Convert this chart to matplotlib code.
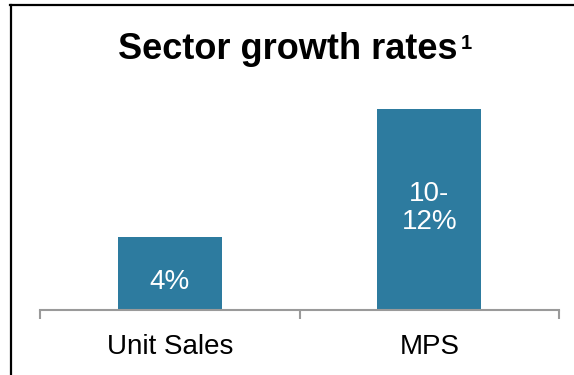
import matplotlib

matplotlib.use("Agg")
import matplotlib.pyplot as plt
from matplotlib.lines import Line2D

plt.rcParams["font.family"] = ["Liberation Sans", "DejaVu Sans"]

# 부문별 성장률 (%)
categories = ["Unit Sales", "MPS"]
growth = [4, 11]                 # MPS는 10-12% 구간의 중간값
value_labels = ["4%", "10-\n12%"]

BAR_COLOR = "#2d7b9f"
AXIS_COLOR = "#9a9a9a"
W, H = 574, 375

fig = plt.figure(figsize=(W / 100, H / 100), dpi=100, facecolor="white")

# ── 막대 차트 ────────────────────────────────────────────
ax = fig.add_axes([40 / W, 65 / H, 519 / W, 12 * 18.3 / H])
x = list(range(len(categories)))
bars = ax.bar(x, growth, width=0.40, color=BAR_COLOR, zorder=2)
ax.set_xlim(-0.5, len(categories) - 0.5)
ax.set_ylim(0, 12)

for rect, v, lab in zip(bars, growth, value_labels):
    cx = rect.get_x() + rect.get_width() / 2
    dy = -6 if "\n" not in lab else 1
    ax.annotate(lab, xy=(cx, v / 2), xytext=(0, dy), textcoords="offset points",
                ha="center", va="center", color="white", fontsize=20,
                linespacing=1.12)

for side in ("top", "right", "left"):
    ax.spines[side].set_visible(False)
ax.spines["bottom"].set_color(AXIS_COLOR)
ax.spines["bottom"].set_linewidth(1.5)
ax.set_yticks([])

# 카테고리 경계 눈금 + 가운데 라벨
ax.set_xticks(x)
ax.set_xticklabels(categories, fontsize=20, color="black")
ax.tick_params(axis="x", which="major", length=0, pad=17)
ax.set_xticks([i - 0.5 for i in range(len(categories) + 1)], minor=True)
ax.tick_params(axis="x", which="minor", length=6.5, width=1.5,
               color=AXIS_COLOR, direction="out")

# ── 제목 + 각주 번호 ─────────────────────────────────────
title = fig.text(287.5 / W, (H - 59) / H, "Sector growth rates",
                 ha="center", va="baseline", fontsize=26, fontweight="bold")
fig.canvas.draw()
tb = title.get_window_extent()
fig.text((tb.x1 + 4) / W, (H - 49) / H, "1", ha="left", va="baseline",
         fontsize=14.5, fontweight="bold")

# ── 테두리 (왼쪽/위) ─────────────────────────────────────
fig.add_artist(Line2D([10.5 / W, 10.5 / W], [0, 1 - 5 / H],
                      color="black", linewidth=1.6))
fig.add_artist(Line2D([10 / W, 1], [1 - 5 / H, 1 - 5 / H],
                      color="black", linewidth=1.6))

fig.savefig("out.png", dpi=100, facecolor="white")
plt.close(fig)
